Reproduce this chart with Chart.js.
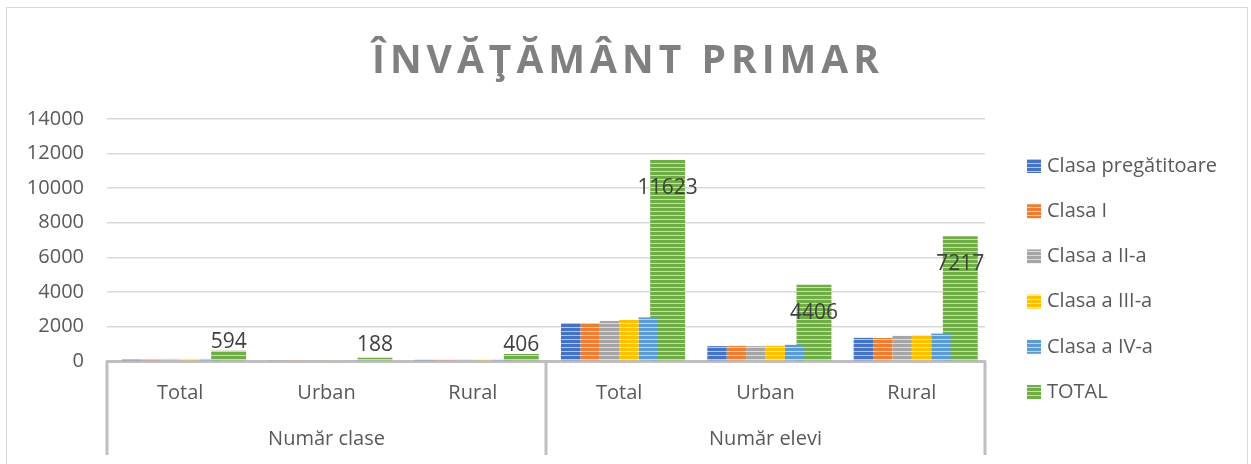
<!DOCTYPE html>
<html>
<head>
<meta charset="utf-8">
<script src="https://cdn.jsdelivr.net/npm/chart.js@4.4.0/dist/chart.umd.min.js"></script>
<style>
html, body { margin: 0; padding: 0; background: #fff; }
#wrap { position: relative; width: 1251px; height: 464px; overflow: hidden; }
#frame { position: absolute; left: 6px; top: 7px; width: 1240px; height: 470px; border: 1px solid #d9d9d9; pointer-events: none; }
</style>
</head>
<body>
<div id="wrap">
  <canvas id="primarChart" width="1251" height="464"></canvas>
  <div id="frame"></div>
</div>
<script>
// chart data
const chartTitle = "ÎNVĂŢĂMÂNT PRIMAR";
const subCategories = ["Total", "Urban", "Rural", "Total", "Urban", "Rural"];
const groupLabels = ["Număr clase", "Număr elevi"];
const seriesNames = ["Clasa pregătitoare", "Clasa I", "Clasa a II-a", "Clasa a III-a", "Clasa a IV-a", "TOTAL"];
const clasaPregatitoare = [115, 37, 78, 2200, 860, 1340];
const clasaI = [118, 37, 81, 2200, 870, 1330];
const clasaII = [120, 38, 82, 2320, 860, 1460];
const clasaIII = [121, 38, 83, 2380, 880, 1500];
const clasaIV = [120, 38, 82, 2523, 936, 1587];
const totalValues = [594, 188, 406, 11623, 4406, 7217];
const yMin = 0;
const yMax = 14000;
const yStep = 2000;

const seriesColors = ["#4472C4", "#ED7D31", "#A5A5A5", "#FFC000", "#5B9BD5", "#70AD47"];
const textColor = "#595959";
const fontFamily = '"Open Sans", "Noto Sans", sans-serif';

// horizontal stripe fill like the Office pattern
function stripe(color) {
    const c = document.createElement("canvas");
    c.width = 4;
    c.height = 4;
    const g = c.getContext("2d");
    g.fillStyle = color;
    g.fillRect(0, 0, 4, 4);
    g.fillStyle = "rgba(255,255,255,0.6)";
    g.fillRect(0, 3, 4, 1);
    return g.createPattern(c, "repeat");
}

const allSeries = [clasaPregatitoare, clasaI, clasaII, clasaIII, clasaIV, totalValues];
const datasets = allSeries.map(function (values, i) {
    const isTotal = i === allSeries.length - 1;
    return {
        label: seriesNames[i],
        data: values,
        backgroundColor: stripe(seriesColors[i]),
        borderWidth: 0,
        categoryPercentage: 0.795,
        barPercentage: isTotal ? 1.8 : 1.0
    };
});

const titlePlugin = {
    id: "spacedTitle",
    afterDraw(chart) {
        const ctx = chart.ctx;
        ctx.save();
        ctx.font = "bold 39px " + fontFamily;
        ctx.letterSpacing = "5px";
        ctx.fillStyle = "#808080";
        ctx.textAlign = "center";
        ctx.textBaseline = "alphabetic";
        ctx.fillText(chartTitle, chart.width / 2 + 2.5, 73);
        ctx.restore();
    }
};

const valueLabels = {
    id: "valueLabels",
    afterDatasetsDraw(chart) {
        const ctx = chart.ctx;
        const idx = chart.data.datasets.length - 1;
        const meta = chart.getDatasetMeta(idx);
        const values = chart.data.datasets[idx].data;
        ctx.save();
        ctx.font = "21px " + fontFamily;
        ctx.fillStyle = "#404040";
        ctx.textAlign = "center";
        ctx.textBaseline = "middle";
        meta.data.forEach(function (bar, i) {
            let y;
            if (bar.base - bar.y > 40) {
                y = bar.y + 28;
            } else {
                y = Math.min(bar.y - 9, bar.base - 15);
            }
            ctx.fillText(String(values[i]), bar.x, y);
        });
        ctx.restore();
    }
};

const groupLines = {
    id: "groupLines",
    afterDraw(chart) {
        const ctx = chart.ctx;
        const x = chart.scales.x;
        const bottom = chart.scales.x2.bottom - 9;
        const xs = [x.left, (x.getPixelForTick(2) + x.getPixelForTick(3)) / 2, x.right];
        ctx.save();
        ctx.strokeStyle = "#bfbfbf";
        ctx.lineWidth = 3;
        xs.forEach(function (px) {
            ctx.beginPath();
            ctx.moveTo(px, x.top);
            ctx.lineTo(px, bottom);
            ctx.stroke();
        });
        ctx.restore();
    }
};

const sideLegend = {
    id: "sideLegend",
    afterDraw(chart) {
        const ctx = chart.ctx;
        ctx.save();
        ctx.font = "20px " + fontFamily;
        ctx.textBaseline = "middle";
        ctx.textAlign = "left";
        chart.data.datasets.forEach(function (ds, i) {
            const y = 166 + i * 45.2;
            ctx.fillStyle = ds.backgroundColor;
            ctx.fillRect(1027, y - 7, 14, 14);
            ctx.fillStyle = textColor;
            ctx.fillText(ds.label, 1047, y);
        });
        ctx.restore();
    }
};

const ctx = document.getElementById("primarChart");
const primarChart = new Chart(ctx, {
    type: "bar",
    data: {
        labels: subCategories,
        datasets: datasets
    },
    options: {
        responsive: false,
        animation: false,
        layout: { padding: { top: 119, right: 266, left: 0, bottom: 0 } },
        plugins: {
            legend: { display: false },
            title: { display: false },
            tooltip: { enabled: false }
        },
        scales: {
            x: {
                weight: 0,
                grid: { display: true, drawOnChartArea: false, drawTicks: false },
                border: { display: true, color: "#bfbfbf", width: 3 },
                ticks: { color: textColor, font: { size: 20, family: fontFamily }, padding: 20, maxRotation: 0 },
                afterFit: function (scale) { scale.height = 46; }
            },
            x2: {
                type: "category",
                labels: groupLabels,
                position: "bottom",
                weight: 1,
                offset: true,
                grid: { display: false },
                border: { display: false },
                ticks: { color: textColor, font: { size: 20, family: fontFamily }, padding: 12, maxRotation: 0 },
                afterFit: function (scale) { scale.height = 57; }
            },
            y: {
                min: yMin,
                max: yMax,
                ticks: {
                    stepSize: yStep,
                    color: textColor,
                    font: { size: 20, family: fontFamily },
                    padding: 23,
                    callback: function (value) { return String(value); }
                },
                grid: { color: "#d9d9d9", lineWidth: 1.5, drawTicks: false },
                border: { display: false },
                afterFit: function (scale) { scale.width = 107; }
            }
        }
    },
    plugins: [titlePlugin, valueLabels, groupLines, sideLegend]
});
</script>
</body>
</html>
